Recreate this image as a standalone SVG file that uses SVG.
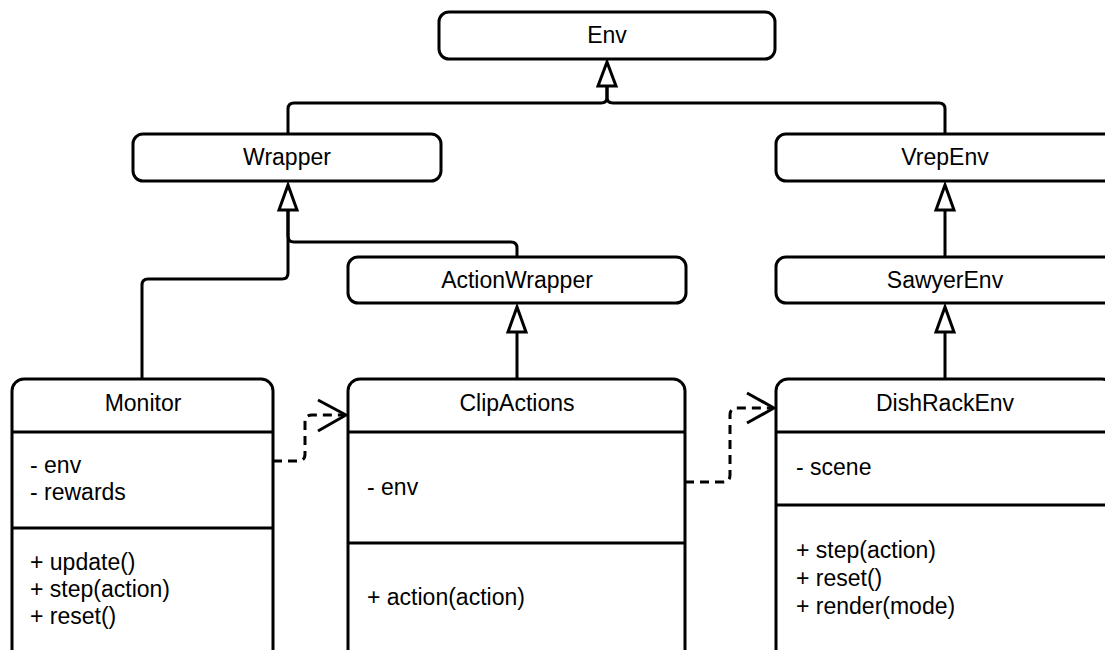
<svg xmlns="http://www.w3.org/2000/svg" width="1105" height="650" viewBox="0 0 1105 650">
<style>
.box{fill:#fff;stroke:#000;stroke-width:3}
.sep{stroke:#000;stroke-width:3}
.t{font-family:"Liberation Sans",Arial,sans-serif;font-size:23px;fill:#000}
.c{text-anchor:middle}
.ln{fill:none;stroke:#000;stroke-width:3;stroke-linejoin:round}
.dash{fill:none;stroke:#000;stroke-width:3;stroke-dasharray:9 6}
.tri{fill:#fff;stroke:#000;stroke-width:3;stroke-linejoin:miter}
</style>
<rect width="1105" height="650" fill="#fff"/>
<g id="connectors">
<path class="ln" d="M288,134 V109 Q288,103 294,103 H601 Q607,103 607,97 V86"/>
<path class="ln" d="M945,134 V109 Q945,103 939,103 H613 Q607,103 607,97 V86"/>
<polygon class="tri" points="607,62 598,86 616,86"/>
<path class="ln" d="M517,257 V248 Q517,242 511,242 H294 Q288,242 288,236 V210"/>
<path class="ln" d="M142,379 V285 Q142,279 148,279 H282 Q288,279 288,273 V210"/>
<polygon class="tri" points="288,185 279,210 297,210"/>
<path class="ln" d="M945,257 V210"/>
<polygon class="tri" points="945,185 936,210 954,210"/>
<path class="ln" d="M517,379 V332"/>
<polygon class="tri" points="517,307 508,332 526,332"/>
<path class="ln" d="M945,379 V332"/>
<polygon class="tri" points="945,307 936,332 954,332"/>
<path class="dash" d="M273,461 H298 Q305,461 305,454 V422 Q305,415 312,415 H345"/>
<path class="ln" d="M318,400 L346,415 L318,431"/>
<path class="dash" d="M685,482 H723 Q730,482 730,475 V415 Q730,408 737,408 H773"/>
<path class="ln" d="M747,393 L774,408 L747,423"/>
</g>
<g id="Env">
<rect class="box" x="439" y="12" width="336" height="47" rx="10"/>
<text class="t c" x="607" y="43">Env</text>
</g>
<g id="Wrapper">
<rect class="box" x="133" y="134" width="308" height="47" rx="10"/>
<text class="t c" x="287" y="165">Wrapper</text>
</g>
<g id="VrepEnv">
<rect class="box" x="776" y="134" width="338" height="47" rx="10"/>
<text class="t c" x="945" y="165">VrepEnv</text>
</g>
<g id="ActionWrapper">
<rect class="box" x="348" y="257" width="338" height="46" rx="10"/>
<text class="t c" x="517" y="288">ActionWrapper</text>
</g>
<g id="SawyerEnv">
<rect class="box" x="776" y="257" width="338" height="46" rx="10"/>
<text class="t c" x="945" y="288">SawyerEnv</text>
</g>
<g id="Monitor">
<rect class="box" x="12" y="379" width="261" height="290" rx="12"/>
<line class="sep" x1="12" y1="432" x2="273" y2="432"/>
<line class="sep" x1="12" y1="528" x2="273" y2="528"/>
<text class="t c" x="143" y="411">Monitor</text>
<text class="t" x="30" y="473">- env</text>
<text class="t" x="30" y="500">- rewards</text>
<text class="t" x="30" y="570">+ update()</text>
<text class="t" x="30" y="597">+ step(action)</text>
<text class="t" x="30" y="624">+ reset()</text>
</g>
<g id="ClipActions">
<rect class="box" x="348" y="379" width="337" height="290" rx="12"/>
<line class="sep" x1="348" y1="432" x2="685" y2="432"/>
<line class="sep" x1="348" y1="543" x2="685" y2="543"/>
<text class="t c" x="517" y="411">ClipActions</text>
<text class="t" x="367" y="495">- env</text>
<text class="t" x="367" y="605">+ action(action)</text>
</g>
<g id="DishRackEnv">
<rect class="box" x="776" y="379" width="338" height="290" rx="12"/>
<line class="sep" x1="776" y1="432" x2="1114" y2="432"/>
<line class="sep" x1="776" y1="505" x2="1114" y2="505"/>
<text class="t c" x="945" y="411">DishRackEnv</text>
<text class="t" x="796" y="475">- scene</text>
<text class="t" x="796" y="558">+ step(action)</text>
<text class="t" x="796" y="586">+ reset()</text>
<text class="t" x="796" y="614">+ render(mode)</text>
</g>
</svg>
